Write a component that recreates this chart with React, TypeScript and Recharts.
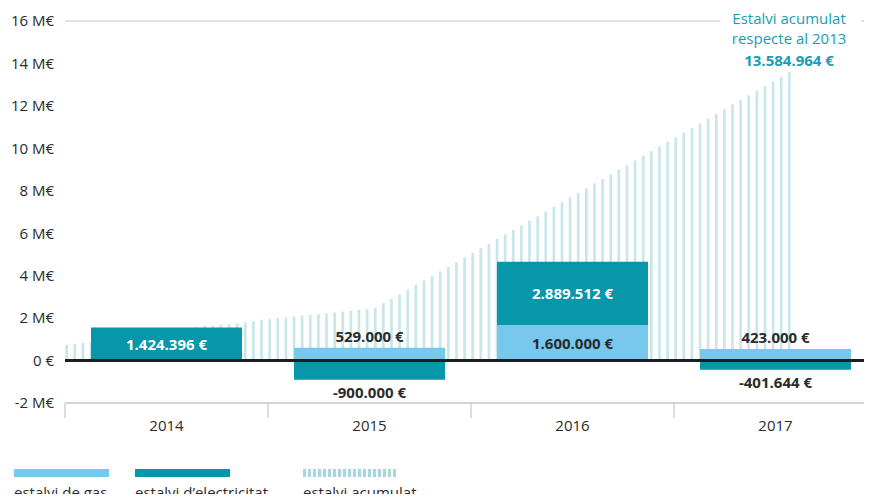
import React from 'react';
import {
  ComposedChart,
  Bar,
  XAxis,
  YAxis,
  CartesianGrid,
  ReferenceLine,
  ReferenceDot,
  LabelList,
} from 'recharts';

// ---- data ----
const years = ['2014', '2015', '2016', '2017'];
const periodsPerYear = 25;
const gasSaving = [0, 0.6, 1.68, 0.55];
const elecSaving = [1.56, -0.91, 2.97, -0.43];
const gasLabels = [null, '529.000 €', '1.600.000 €', '423.000 €'];
const elecLabels = ['1.424.396 €', '-900.000 €', '2.889.512 €', '-401.644 €'];
const accumulated = [
  0.74, 0.79, 0.83, 0.86, 0.92, 0.98, 1.04, 1.1, 1.16, 1.22,
  1.28, 1.33, 1.38, 1.43, 1.48, 1.53, 1.6, 1.63, 1.65, 1.68,
  1.71, 1.75, 1.8, 1.86, 1.92, 1.95, 2.0, 2.03, 2.08, 2.13,
  2.16, 2.19, 2.22, 2.27, 2.31, 2.36, 2.39, 2.42, 2.49, 2.71,
  2.91, 3.12, 3.34, 3.57, 3.78, 3.98, 4.2, 4.42, 4.64, 4.86,
  5.08, 5.3, 5.51, 5.73, 5.95, 6.17, 6.36, 6.6, 6.8, 7.02,
  7.24, 7.46, 7.69, 7.9, 8.11, 8.35, 8.55, 8.77, 8.99, 9.21,
  9.43, 9.65, 9.87, 10.09, 10.31, 10.52, 10.74, 10.96, 11.18, 11.4,
  11.62, 11.84, 12.06, 12.28, 12.5, 12.71, 12.93, 13.15, 13.37, 13.58,
];
const accumulatedTitle = ['Estalvi acumulat', 'respecte al 2013'];
const accumulatedTotalLabel = '13.584.964 €';
const yTicks = [-2, 0, 2, 4, 6, 8, 10, 12, 14, 16];
const legendItems = ['estalvi de gas', 'estalvi d’electricitat', 'estalvi acumulat'];

// ---- styles ----
const FONT = '"Open Sans", "Noto Sans", sans-serif';
const GAS = '#78c7ec';
const ELEC = '#0796aa';
const STRIPE = '#0a93a6';
const TEAL_TEXT = '#1a9db2';
const GRID = '#c6c6c6';
const TEXT = '#2b2b2b';

const W = 880;
const H = 502;
const MARGIN = { top: 21, right: 3, bottom: 69, left: 0 };
const X_AXIS_H = 30;
const Y_DOMAIN: [number, number] = [-2, 16];

const yearData = years.map((y, k) => ({
  year: y,
  gas: gasSaving[k],
  elec: elecSaving[k],
  gasLabel: gasLabels[k],
  elecLabel: elecLabels[k],
}));
const stripeData = accumulated.map((v, i) => ({ period: i, acc: v }));
const totalPeriods = years.length * periodsPerYear;
const PERIOD_DOMAIN: [number, number] = [-0.17, totalPeriods - 0.17];

const YearTick = (props: any) => {
  const { x, y, payload, index } = props;
  const half = payload && payload.offset ? payload.offset : 0;
  const isLast = index === years.length - 1;
  return (
    <g>
      <line x1={x - half} x2={x - half} y1={y} y2={y + 15} stroke={GRID} strokeWidth={1.2} />
      {isLast ? <line x1={x + half} x2={x + half} y1={y} y2={y + 15} stroke={GRID} strokeWidth={1.2} /> : null}
      <text x={x} y={y + 22} textAnchor="middle" dominantBaseline="central" fill={TEXT} fontSize={15} fontFamily={FONT}>
        {payload.value}
      </text>
    </g>
  );
};

const makeBarLabel = (insideColor: string) => (props: any) => {
  const { value } = props;
  if (value == null || value === '') return null;
  const vb = props.viewBox && props.viewBox.width != null ? props.viewBox : props;
  const { x, y, width, height } = vb;
  if (x == null || y == null) return null;
  const top = Math.min(y, y + height);
  const bottom = Math.max(y, y + height);
  const h = bottom - top;
  const cx = x + width / 2;
  const negative = String(value).startsWith('-');
  let ty: number;
  let fill = TEXT;
  if (negative) {
    ty = bottom + 12;
  } else if (h < 20) {
    ty = top - 12;
  } else {
    ty = top + h / 2;
    fill = insideColor;
  }
  return (
    <text x={cx} y={ty} textAnchor="middle" dominantBaseline="central" fill={fill} fontSize={15} fontWeight={700} fontFamily={FONT}>
      {value}
    </text>
  );
};

const Annotation = (props: any) => {
  const vb = props.viewBox || {};
  const cx = vb.x + (vb.width || 0) / 2;
  const cy = vb.y + (vb.height || 0) / 2;
  return (
    <g>
      <rect x={cx - 69} y={cy - 67} width={141} height={63} fill="#fff" />
      <text x={cx} y={cy - 54} textAnchor="middle" dominantBaseline="central" fill={TEAL_TEXT} fontSize={15} fontFamily={FONT}>
        {accumulatedTitle[0]}
      </text>
      <text x={cx} y={cy - 34} textAnchor="middle" dominantBaseline="central" fill={TEAL_TEXT} fontSize={15} fontFamily={FONT}>
        {accumulatedTitle[1]}
      </text>
      <text x={cx} y={cy - 12} textAnchor="middle" dominantBaseline="central" fill={TEAL_TEXT} fontSize={15} fontWeight={700} fontFamily={FONT}>
        {accumulatedTotalLabel}
      </text>
    </g>
  );
};

const lastIdx = accumulated.length - 1;
const layer: React.CSSProperties = { position: 'absolute', left: 0, top: 0 };

export default function App() {
  return (
    <div style={{ position: 'relative', width: 872, height: 502, margin: -8, overflow: 'hidden', background: '#fff', fontFamily: FONT }}>
      {/* back layer: y axis, accumulated stripes */}
      <div style={layer}>
        <ComposedChart width={W} height={H} data={stripeData} margin={{ ...MARGIN, bottom: MARGIN.bottom + X_AXIS_H }}>
          <XAxis type="number" dataKey="period" domain={PERIOD_DOMAIN} hide height={0} allowDataOverflow />
          <YAxis
            type="number"
            domain={Y_DOMAIN}
            ticks={yTicks}
            interval={0}
            width={65}
            axisLine={false}
            tickLine={false}
            tickSize={0}
            tickMargin={11}
            tick={{ fill: TEXT, fontSize: 15, fontFamily: FONT }}
            tickFormatter={(v: number) => (v === 0 ? '0 €' : `${v} M€`)}
          />
          <Bar dataKey="acc" barSize={2.7} fill={STRIPE} fillOpacity={0.22} isAnimationActive={false} />
        </ComposedChart>
      </div>
      {/* middle layer: grid, yearly savings bars, year axis */}
      <div style={layer}>
        <ComposedChart width={W} height={H} data={yearData} stackOffset="sign" margin={MARGIN}>
          <CartesianGrid vertical={false} stroke={GRID} strokeWidth={1.2} />
          <XAxis
            dataKey="year"
            type="category"
            interval={0}
            tick={<YearTick />}
            tickLine={false}
            tickSize={0}
            tickMargin={0}
            axisLine={{ stroke: GRID, strokeWidth: 1.2 }}
            height={X_AXIS_H}
          />
          <YAxis type="number" domain={Y_DOMAIN} ticks={yTicks} width={65} tick={false} axisLine={false} tickLine={false} />
          <Bar dataKey="gas" stackId="saving" barSize={151} fill={GAS} isAnimationActive={false}>
            <LabelList dataKey="gasLabel" content={makeBarLabel(TEXT)} />
          </Bar>
          <Bar dataKey="elec" stackId="saving" barSize={151} fill={ELEC} isAnimationActive={false}>
            <LabelList dataKey="elecLabel" content={makeBarLabel('#ffffff')} />
          </Bar>
          <ReferenceLine y={0} stroke="#1e1e1e" strokeWidth={3} />
        </ComposedChart>
      </div>
      {/* top layer: annotation of the accumulated total */}
      <div style={layer}>
        <ComposedChart width={W} height={H} data={stripeData} margin={{ ...MARGIN, bottom: MARGIN.bottom + X_AXIS_H }}>
          <XAxis type="number" dataKey="period" domain={PERIOD_DOMAIN} hide height={0} allowDataOverflow />
          <YAxis type="number" domain={Y_DOMAIN} ticks={yTicks} width={65} tick={false} axisLine={false} tickLine={false} />
          <Bar dataKey="acc" barSize={2.7} fill="none" isAnimationActive={false} />
          <ReferenceDot
            x={lastIdx}
            y={accumulated[lastIdx]}
            r={1}
            fill="none"
            stroke="none"
            ifOverflow="visible"
            label={{ content: (p: any) => <Annotation {...p} /> }}
          />
        </ComposedChart>
      </div>
      <div style={{ position: 'absolute', left: 14, top: 469, fontSize: 15, color: TEXT }}>
        {legendItems.map((name, i) => (
          <div key={name} style={{ position: 'absolute', left: [0, 121, 289][i], top: 0, whiteSpace: 'nowrap' }}>
            <div
              style={{
                width: 95,
                height: 8,
                background:
                  i === 0
                    ? GAS
                    : i === 1
                    ? ELEC
                    : 'repeating-linear-gradient(90deg, #a6d7df 0px, #a6d7df 3px, #ffffff 3px, #ffffff 5px)',
              }}
            />
            <div style={{ marginTop: 5, lineHeight: '20px' }}>{name}</div>
          </div>
        ))}
      </div>
    </div>
  );
}
